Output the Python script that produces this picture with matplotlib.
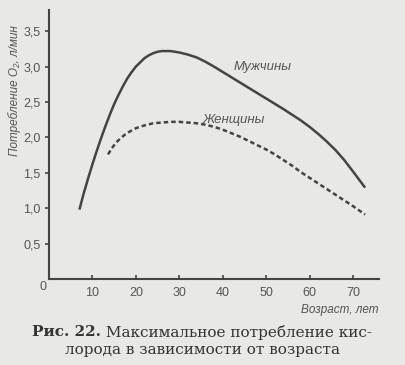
import matplotlib
matplotlib.use('Agg')
import matplotlib.pyplot as plt

# values
men_age = [7, 8, 9, 10, 11, 12, 13, 14, 15, 16, 17, 18, 19, 20, 21, 22, 23, 24, 25, 26, 27, 28, 29, 30, 32,
           34, 36, 38, 40, 42, 44, 46, 48, 50, 52, 54, 56, 58, 60, 62, 64, 66, 68, 70, 72.8]
men_vo2 = [0.98, 1.21, 1.42, 1.62, 1.81, 1.99, 2.16, 2.32, 2.47, 2.60, 2.72, 2.83, 2.92, 3.00, 3.06, 3.12, 3.16,
           3.19, 3.21, 3.22, 3.22, 3.22, 3.21, 3.20, 3.17,
           3.13, 3.07, 3.00, 2.925, 2.85, 2.775, 2.70, 2.625, 2.55, 2.475, 2.40, 2.32, 2.24, 2.15, 2.05, 1.94,
           1.82, 1.68, 1.52, 1.29]
women_age = [13.6, 14.5, 15.5, 16.5, 17.5, 18.5, 20, 22, 24, 26, 28, 30, 32, 34, 36, 38, 40, 42, 44, 46, 48, 50,
             52, 54, 56, 58, 60, 62, 64, 66, 68, 70, 72.8]
women_vo2 = [1.76, 1.85, 1.93, 1.99, 2.04, 2.08, 2.13, 2.17, 2.20, 2.21, 2.22, 2.22, 2.21, 2.20, 2.18, 2.15, 2.11,
             2.06, 2.01, 1.95, 1.89, 1.83, 1.76, 1.68, 1.60, 1.51, 1.43, 1.35, 1.27, 1.19, 1.11, 1.03, 0.91]
xticks = [10, 20, 30, 40, 50, 60, 70]
yticks = [0.5, 1.0, 1.5, 2.0, 2.5, 3.0, 3.5]
ytick_labels = ['0,5', '1,0', '1,5', '2,0', '2,5', '3,0', '3,5']

sans = ['Liberation Sans', 'DejaVu Sans']
serif = ['DejaVu Serif', 'Liberation Serif']
bg = '#e8e8e6'
ink = '#444444'
grey = '#555555'

fig = plt.figure(figsize=(4.06, 3.65), dpi=100, facecolor=bg)
ax = fig.add_axes([49/406, 1-279/365, 330/406, 269/365], facecolor=bg)

ax.plot(men_age, men_vo2, color=ink, lw=1.8, solid_capstyle='butt', solid_joinstyle='round')
ax.plot(women_age, women_vo2, color=ink, lw=1.8, linestyle=(0, (1.8, 1.2)))

ax.set_xlim(0, 76)
ax.set_ylim(0, 3.8)
for s in ['top', 'right']:
    ax.spines[s].set_visible(False)
for s in ['left', 'bottom']:
    ax.spines[s].set_color(ink)
    ax.spines[s].set_linewidth(1.5)

ax.set_xticks(xticks)
ax.set_xticklabels([str(t) for t in xticks], family=sans, size=9, color=grey)
ax.set_yticks(yticks)
ax.set_yticklabels(ytick_labels, family=sans, size=9, color=grey)
ax.tick_params(axis='x', direction='in', length=3, width=1.2, color=ink, pad=6)
ax.tick_params(axis='y', direction='out', length=3, width=1.2, color=ink, pad=3)

ax.annotate('0', xy=(0, 0), xytext=(-4.5, -6), textcoords='offset points',
            ha='center', va='center', family=sans, size=9, color=grey)

ax.text(49.2, 3.0, 'Мужчины', ha='center', va='center', style='italic',
        family=sans, size=9.5, color=grey)
ax.text(42.6, 2.24, 'Женщины', ha='center', va='center', style='italic',
        family=sans, size=9.5, color=grey)

ax.text(0.997, -0.115, 'Возраст, лет', transform=ax.transAxes, ha='right', va='center',
        style='italic', family=sans, size=8.5, color=grey)
fig.text(15/406, 1-91/365, 'Потребление O₂, л/мин', rotation=90, ha='center', va='center',
         style='italic', family=sans, size=8.5, color=grey)

# caption
cap = '#333333'
t = fig.text(32/406, 1-332/365, 'Рис. 22.', ha='left', va='center', family=serif,
             weight='bold', size=11, color=cap)
plt.annotate(' Максимальное потребление кис-', xy=(1, 0.5), xycoords=t, ha='left', va='center',
             family=serif, size=11, color=cap, annotation_clip=False)
fig.text(203/406, 1-350/365, 'лорода в зависимости от возраста', ha='center', va='center',
         family=serif, size=11, color=cap)

fig.savefig('out.png', dpi=100, facecolor=bg)
